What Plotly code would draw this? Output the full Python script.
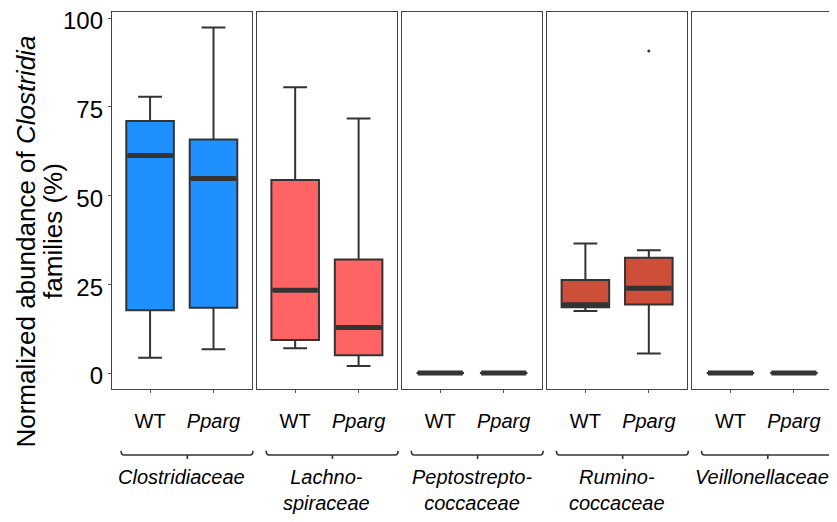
import plotly.graph_objects as go
from plotly.subplots import make_subplots

families = ["Clostridiaceae", "Lachno-<br>spiraceae", "Peptostrepto-<br>coccaceae",
            "Rumino-<br>coccaceae", "Veillonellaceae"]
groups = ["WT", "<i>Pparg</i>"]
colors = ["#1E90FF", "#FF6464", "#F0E442", "#CD4F39", "#8E44AD"]

# stats per family: [WT, Pparg]
lower = [[4.3, 6.7], [7.0, 2.0], [0, 0], [17.5, 5.5], [0, 0]]
q1 = [[17.7, 18.4], [9.3, 5.0], [0, 0], [18.5, 19.3], [0, 0]]
median = [[61.3, 54.8], [23.3, 12.8], [0, 0], [19.2, 23.9], [0, 0]]
q3 = [[71.0, 65.8], [54.4, 32.0], [0, 0], [26.2, 32.5], [0, 0]]
upper = [[77.8, 97.3], [80.5, 71.7], [0, 0], [36.5, 34.6], [0, 0]]
# outliers: (family index, group index, value)
outliers = [(3, 1, 90.7)]

ytick_vals = [0, 25, 50, 75, 100]

positions = [1, 2]
box_w = 0.75
ink = "#333333"

fig = make_subplots(rows=1, cols=5, shared_yaxes=True, horizontal_spacing=0.0077)

for f in range(5):
    col = f + 1
    for g in range(2):
        fig.add_trace(go.Box(
            x=[positions[g]], q1=[q1[f][g]], median=[median[f][g]], q3=[q3[f][g]],
            lowerfence=[lower[f][g]], upperfence=[upper[f][g]],
            width=box_w, fillcolor=colors[f], line=dict(color=ink, width=2),
            boxpoints=False, hoverinfo="skip"), row=1, col=col)
        fig.add_trace(go.Scatter(
            x=[positions[g] - box_w / 2 + 0.02, positions[g] + box_w / 2 - 0.02],
            y=[median[f][g], median[f][g]], mode="lines",
            line=dict(color=ink, width=5), hoverinfo="skip"), row=1, col=col)
    for (fi, gi, v) in outliers:
        if fi == f:
            fig.add_trace(go.Scatter(x=[positions[gi]], y=[v], mode="markers",
                                     marker=dict(color=ink, size=3), hoverinfo="skip"),
                          row=1, col=col)

for f in range(5):
    col = f + 1
    fig.update_xaxes(range=[0.4, 2.6], tickvals=positions, ticktext=groups,
                     ticks="outside", ticklen=3, tickcolor="#555555",
                     showline=True, mirror=True, linecolor="#444444", linewidth=1.3,
                     showgrid=False, zeroline=False, automargin=False,
                     tickfont=dict(family="Liberation Sans, Arial", size=20, color="black"),
                     ticklabelstandoff=11, row=1, col=col)
    fig.update_yaxes(range=[-4.5, 101.7], tickvals=ytick_vals,
                     showline=True, mirror=True, linecolor="#444444", linewidth=1.3,
                     showgrid=False, zeroline=False, ticklabeloverflow="allow",
                     automargin=False, ticklabelshift=3,
                     ticks="outside" if col == 1 else "", ticklen=3, tickcolor="#555555",
                     tickfont=dict(family="Liberation Sans, Arial", size=24, color="black"),
                     row=1, col=col)

# family labels and brackets
y0 = -0.175
yu = -0.164
yd = -0.186
for f in range(5):
    xr = "x domain" if f == 0 else f"x{f+1} domain"
    L, R, C = 0.065, 1.01, 0.54
    d = 0.02
    path = (f"M {L},{yu} Q {L},{y0} {L+d},{y0} L {R-d},{y0} Q {R},{y0} {R},{yu} "
            f"M {C},{y0} L {C},{yd}")
    fig.add_shape(type="path", xref=xr, yref="paper", path=path,
                  line=dict(color=ink, width=1.6))
    fig.add_annotation(x=0.5, xref=xr, y=-0.2, yref="paper", yanchor="top",
                       xanchor="center", showarrow=False,
                       text=f"<i>{families[f]}</i>",
                       font=dict(family="Liberation Sans, Arial", size=20, color="black"))

# y title (two lines)
fig.add_annotation(x=-0.1195, xref="paper", y=0.391, yref="paper", textangle=-90,
                   showarrow=False, xanchor="center", yanchor="middle",
                   text="Normalized abundance of <i>Clostridia</i>",
                   font=dict(family="Liberation Sans, Arial", size=26, color="black"))
fig.add_annotation(x=-0.083, xref="paper", y=0.42, yref="paper", textangle=-90,
                   showarrow=False, xanchor="center", yanchor="middle",
                   text="families (%)",
                   font=dict(family="Liberation Sans, Arial", size=26, color="black"))

# page body has an 8px default margin; shift margins so the plot lands in place
fig.update_layout(width=837, height=522, margin=dict(l=104, r=13, t=4, b=141),
                  paper_bgcolor="white", plot_bgcolor="white", showlegend=False)

fig.write_html("out.html")
